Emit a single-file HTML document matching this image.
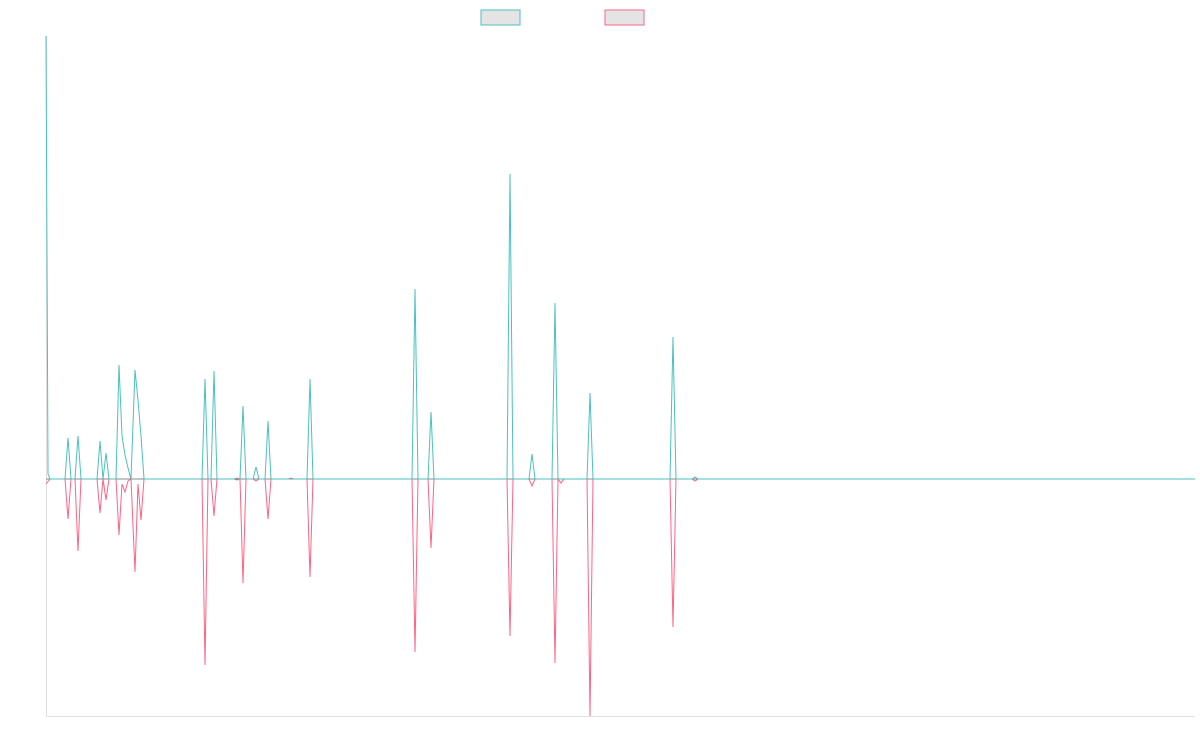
<!DOCTYPE html>
<html><head><meta charset="utf-8"><style>html,body{margin:0;padding:0;background:#fff;width:1200px;height:750px;overflow:hidden}</style></head>
<body>
<svg width="1200" height="750" xmlns="http://www.w3.org/2000/svg">
<rect x="481" y="10" width="39" height="15" fill="#e4e4e4" stroke="#4bc0c0" stroke-width="1"/>
<rect x="605" y="10" width="39" height="15" fill="#e4e4e4" stroke="#ff6384" stroke-width="1"/>
<line x1="46.5" y1="36" x2="46.5" y2="716" stroke="#e0e0e0"/>
<line x1="46" y1="716.5" x2="1195" y2="716.5" stroke="#e0e0e0"/>
<line x1="46" y1="479" x2="1195" y2="479" stroke="#888" stroke-width="1"/>
<polyline fill="none" stroke="#ff6384" stroke-width="1" points="46,484 50,479 65,479 68,519 71,479 75,479 78,551 81,479 97,479 100,513 103,479 106,500 109,479 116,479 119,535 122,484 125,492 128,481 131,479 135,572 138,484 141,520 144,479 202,479 205,665 208,479 211,479 214,516 217,479 234,479 237,480 240,479 243,583 246,479 253,479 256,481 259,479 265,479 268,519 271,479 307,479 310,577 313,479 412,479 415,652 418,479 428,479 431,548 434,479 507,479 510,636 513,479 529,479 532,486 535,479 552,479 555,663 558,479 561,483 564,479 587,479 590,716 593,479 670,479 673,627 676,479 692,479 695,481 698,479 1195,479"/>
<polyline fill="none" stroke="#4bc0c0" stroke-width="1" points="46,36 48,474 50,479 65,479 68,438 71,479 75,479 78,436 81,479 97,479 100,441 103,479 106,453 109,479 116,479 119,365 122,436 125,455 128,468 131,479 135,370 138,400 141,436 144,479 202,479 205,379 208,479 211,479 214,371 217,479 234,479 237,478 240,479 243,406 246,479 253,479 256,467 259,479 265,479 268,421 271,479 288,479 291,478 294,479 307,479 310,379 313,479 412,479 415,289 418,479 428,479 431,412 434,479 507,479 510,174 513,479 529,479 532,454 535,479 552,479 555,303 558,479 587,479 590,393 593,479 670,479 673,337 676,479 692,479 695,477 698,479 1195,479"/>
</svg>
</body></html>
